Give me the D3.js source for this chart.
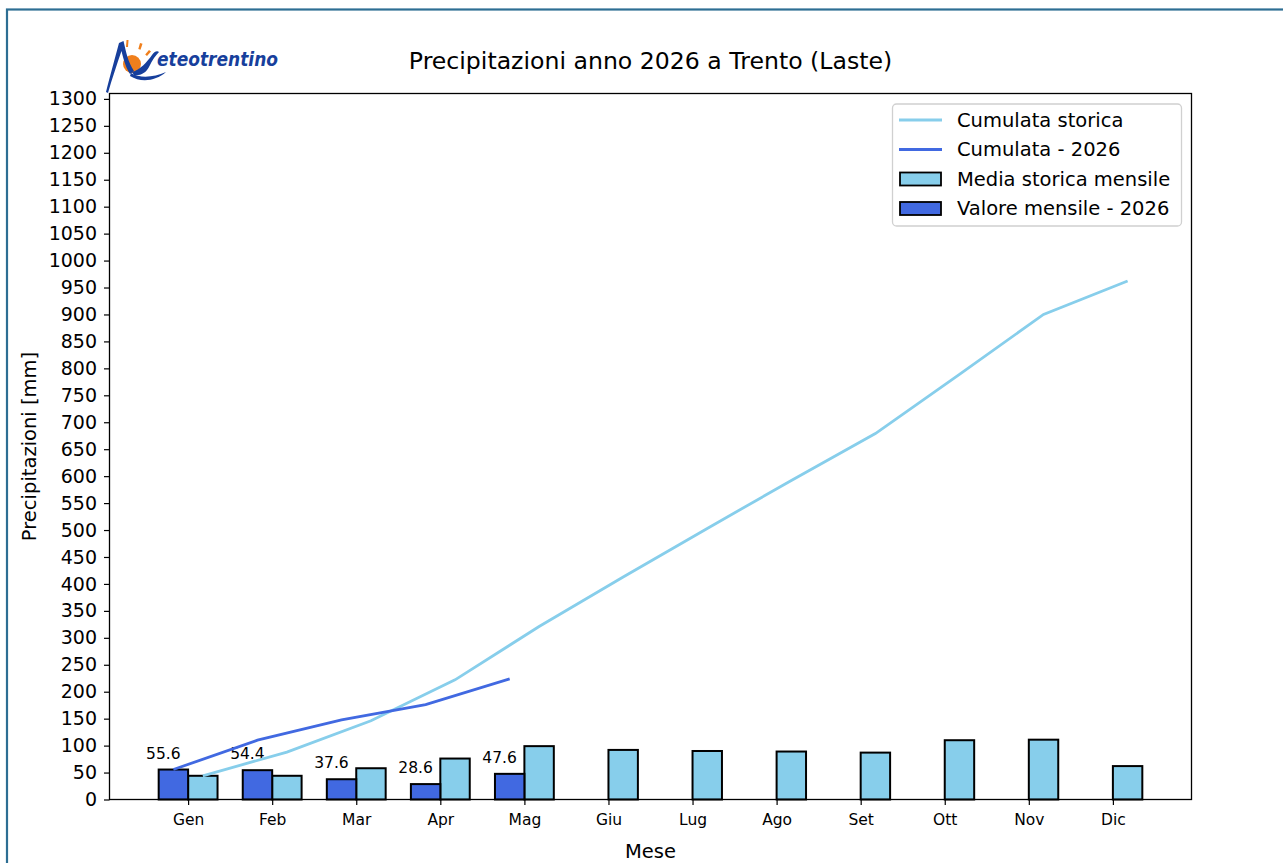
<!DOCTYPE html>
<html>
<head>
<meta charset="utf-8">
<script src="https://cdn.jsdelivr.net/npm/d3@7"></script>
<style>
  html, body { margin: 0; padding: 0; background: #fff; }
  svg { display: block; }
  text { font-family: "DejaVu Sans", sans-serif; fill: #000; }
</style>
</head>
<body>
<svg id="chart" width="1283" height="863"></svg>
<script>
// ---- data ----
const months = ["Gen","Feb","Mar","Apr","Mag","Giu","Lug","Ago","Set","Ott","Nov","Dic"];
const storicaMensile = [44, 44, 58, 76, 99, 92, 90, 89, 87, 110, 111, 62];
const valore2026 = [55.6, 54.4, 37.6, 28.6, 47.6];
const yTicks = d3.range(0, 1301, 50);
const titleText = "Precipitazioni anno 2026 a Trento (Laste)";
const legendLabels = ["Cumulata storica", "Cumulata - 2026", "Media storica mensile", "Valore mensile - 2026"];

const cumStorica = Array.from(d3.cumsum(storicaMensile));
const cum2026 = Array.from(d3.cumsum(valore2026));

const LIGHT = "#87CEEB", DARK = "#4169E1";
const barW = 0.35;

const svg = d3.select("#chart");

// outer border
svg.append("rect").attr("x", 7).attr("y", 9.5).attr("width", 1320).attr("height", 900)
  .attr("fill", "none").attr("stroke", "#2d6e93").attr("stroke-width", 2.2);

const pL = 109.5, pR = 1191.5, pT = 93.5, pB = 799.5;
const x = d3.scaleLinear().domain([-0.935, 11.935]).range([pL, pR]);
const y = d3.scaleLinear().domain([0, 1310]).range([pB, pT]);

// bars: historical (right of tick), 2026 (left of tick)
svg.append("g").selectAll("rect").data(storicaMensile).join("rect")
  .attr("x", (d, i) => x(i)).attr("width", (d, i) => x(i + barW) - x(i))
  .attr("y", d => y(d)).attr("height", d => y(0) - y(d))
  .attr("fill", LIGHT).attr("stroke", "#000").attr("stroke-width", 2);

svg.append("g").selectAll("rect").data(valore2026).join("rect")
  .attr("x", (d, i) => x(i - barW)).attr("width", (d, i) => x(i) - x(i - barW))
  .attr("y", d => y(d)).attr("height", d => y(0) - y(d))
  .attr("fill", DARK).attr("stroke", "#000").attr("stroke-width", 2);

// bar value labels
svg.append("g").selectAll("text").data(valore2026).join("text")
  .attr("x", (d, i) => x(i - 0.5)).attr("y", d => y(d + 20))
  .attr("font-size", "15.5px").text(d => d.toFixed(1));

// lines
const lineHist = d3.line().x((d, i) => x(i + barW / 2)).y(d => y(d));
const line26 = d3.line().x((d, i) => x(i - barW / 2)).y(d => y(d));
svg.append("path").datum(cumStorica).attr("d", lineHist)
  .attr("fill", "none").attr("stroke", LIGHT).attr("stroke-width", 2.8);
svg.append("path").datum(cum2026).attr("d", line26)
  .attr("fill", "none").attr("stroke", DARK).attr("stroke-width", 2.8);

// axes
const yAxis = d3.axisLeft(y).tickValues(yTicks).tickSize(5.5).tickPadding(7).tickFormat(d3.format("d"));
const gy = svg.append("g").attr("transform", `translate(${pL},0)`).call(yAxis);
gy.select(".domain").remove();
gy.selectAll("text").attr("font-size", "19px").attr("font-family", "DejaVu Sans").attr("fill", "#000");
gy.selectAll("line").attr("stroke", "#000").attr("stroke-width", 1.2);

const xAxis = d3.axisBottom(x).tickValues(d3.range(12)).tickSize(5.5).tickPadding(9)
  .tickFormat(i => months[i]);
const gx = svg.append("g").attr("transform", `translate(0,${pB})`).call(xAxis);
gx.select(".domain").remove();
gx.selectAll("text").attr("font-size", "15.5px").attr("font-family", "DejaVu Sans").attr("fill", "#000");
gx.selectAll("line").attr("stroke", "#000").attr("stroke-width", 1.2);

// frame
svg.append("rect").attr("x", pL).attr("y", pT).attr("width", pR - pL).attr("height", pB - pT)
  .attr("fill", "none").attr("stroke", "#000").attr("stroke-width", 1.3);

// axis labels & title
svg.append("text").attr("transform", "translate(29,446.5) rotate(-90)")
  .attr("text-anchor", "middle").attr("dominant-baseline", "central")
  .attr("font-size", "19.5px").text("Precipitazioni [mm]");
svg.append("text").attr("x", 650.5).attr("y", 858).attr("text-anchor", "middle")
  .attr("font-size", "19.5px").text("Mese");
svg.append("text").attr("x", 650.5).attr("y", 69).attr("text-anchor", "middle")
  .attr("font-size", "23.6px").text(titleText);

// legend
const lg = svg.append("g");
lg.append("rect").attr("x", 892.5).attr("y", 104).attr("width", 289).attr("height", 122)
  .attr("rx", 4).attr("fill", "#fff").attr("fill-opacity", 0.8).attr("stroke", "#d0d0d0").attr("stroke-width", 1.3);
const rowsY = [120, 149.5, 179, 208.5];
lg.append("line").attr("x1", 899).attr("x2", 942).attr("y1", rowsY[0]).attr("y2", rowsY[0])
  .attr("stroke", LIGHT).attr("stroke-width", 2.8);
lg.append("line").attr("x1", 899).attr("x2", 942).attr("y1", rowsY[1]).attr("y2", rowsY[1])
  .attr("stroke", DARK).attr("stroke-width", 2.8);
lg.append("rect").attr("x", 900).attr("y", rowsY[2] - 6.5).attr("width", 41).attr("height", 13)
  .attr("fill", LIGHT).attr("stroke", "#000").attr("stroke-width", 1.8);
lg.append("rect").attr("x", 900).attr("y", rowsY[3] - 6.5).attr("width", 41).attr("height", 13)
  .attr("fill", DARK).attr("stroke", "#000").attr("stroke-width", 1.8);
lg.selectAll("text.lab").data(legendLabels).join("text").attr("class", "lab")
  .attr("x", 957).attr("y", (d, i) => rowsY[i]).attr("dominant-baseline", "central")
  .attr("font-size", "19.5px").text(d => d);

// logo
const logo = svg.append("g");
const ORANGE = "#f07f1c", LOGOBLUE = "#173f9c";
logo.append("circle").attr("cx", 132).attr("cy", 64).attr("r", 9).attr("fill", ORANGE);
logo.append("path").attr("d", "M126.5,40 l2,0 l-0.5,7 l-2,0 Z").attr("fill", ORANGE);
logo.append("path").attr("d", "M140,43 l2.5,0.8 l-2,6 l-2.2,-0.8 Z").attr("fill", ORANGE);
logo.append("path").attr("d", "M149,50 l2,1.5 l-4,4.5 l-1.8,-1.5 Z").attr("fill", ORANGE);
// thin left leg + thick descending stroke
logo.append("path")
  .attr("d", "M106,92 C110,76 115,58 119,43 L123.5,41 C126,52 128,62 134,71 L130,74 C125,66 123,57 121.5,51 C117,64 112,79 108,93 Z")
  .attr("fill", LOGOBLUE);
// right arm rising to the curl
logo.append("path")
  .attr("d", "M132,72 C140,70 147,62 152,55 C154,52 157,50 159,52 C156,55 152,60 149,67 C146,73 140,76 134,75 Z")
  .attr("fill", LOGOBLUE);
// bottom swoosh
logo.append("path")
  .attr("d", "M131,73 C141,79 154,77 166,72 C156,81 141,83 130,76 Z")
  .attr("fill", LOGOBLUE);
logo.append("text").attr("x", 157).attr("y", 66)
  .attr("font-family", "Liberation Serif").attr("font-style", "italic").attr("font-weight", "bold")
  .attr("font-size", "19px").attr("textLength", 121).attr("lengthAdjust", "spacingAndGlyphs")
  .style("fill", LOGOBLUE).text("eteotrentino");
</script>
</body>
</html>
